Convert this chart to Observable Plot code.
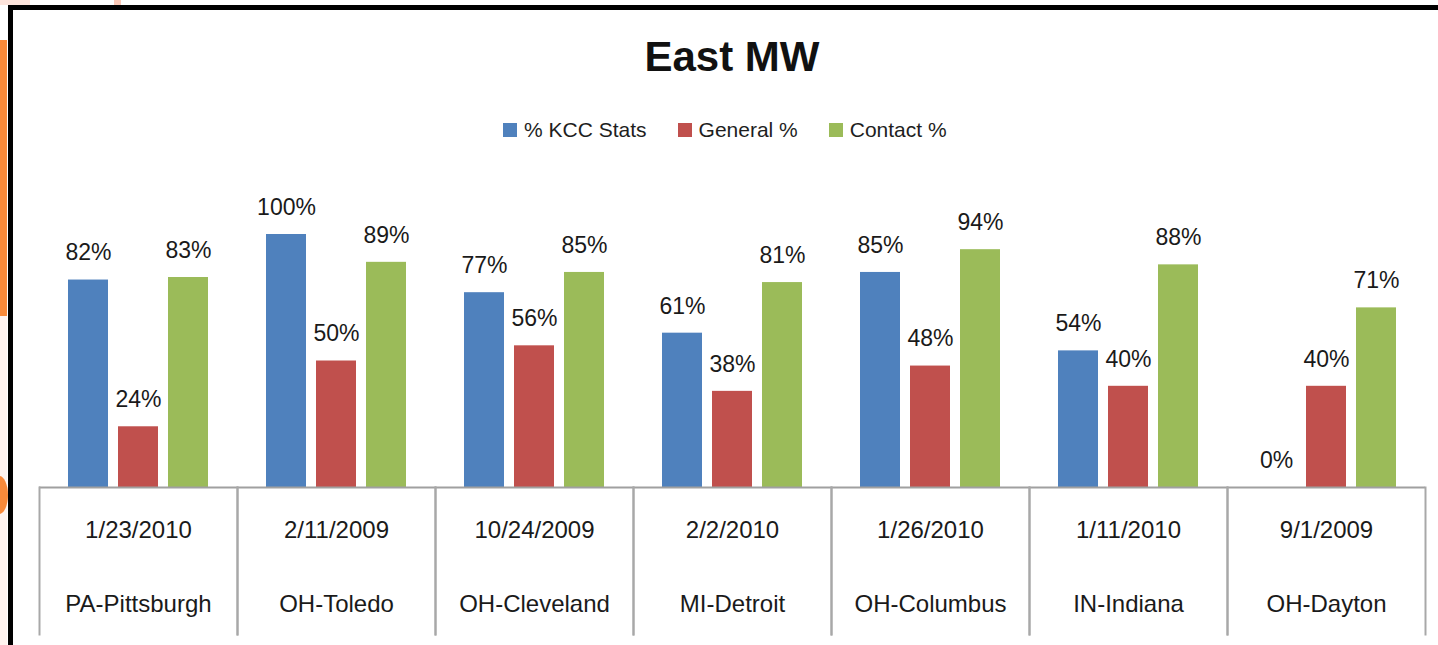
<!DOCTYPE html>
<html>
<head>
<meta charset="utf-8">
<script src="https://cdn.jsdelivr.net/npm/d3@7"></script>
<script src="https://cdn.jsdelivr.net/npm/@observablehq/plot@0.6"></script>
<style>
  html, body { margin: 0; padding: 0; background: #fff; }
  body { width: 1438px; height: 645px; overflow: hidden; font-family: "Liberation Sans", Arial, sans-serif; }
  #page { position: relative; width: 1438px; height: 645px; background: #fff; }
  .deco { position: absolute; }
  #title { position: absolute; left: 38px; width: 1388px; top: 27px; text-align: center; font-weight: bold; font-size: 42px; color: #111; line-height: 60px; }
  #legend { position: absolute; top: 118px; left: 503px; display: flex; align-items: center; font-size: 21px; color: #1e1e1e; height: 24px; }
  #legend .item { display: flex; align-items: center; margin-right: 31px; }
  #legend .sw { width: 14px; height: 14px; margin-right: 7px; }
  #chart { position: absolute; left: 0; top: 150px; }
</style>
</head>
<body>
<div id="page">
  <div class="deco" style="left:0;top:0;width:30px;height:5px;background:#fde4dc;"></div>
  <div class="deco" style="left:114px;top:0;width:7px;height:5px;background:#fbc9b8;"></div>
  <div class="deco" style="left:0;top:316px;width:7px;height:329px;background:#fff3ef;"></div>
  <div class="deco" style="left:0;top:40px;width:7px;height:276px;background:#f98a3a;"></div>
  <div class="deco" style="left:-10px;top:476px;width:18px;height:38px;border-radius:50%;background:#f98a3a;"></div>
  <div class="deco" style="left:8px;top:5px;width:1430px;height:5px;background:#000;"></div>
  <div class="deco" style="left:8px;top:5px;width:5px;height:640px;background:#000;"></div>
  <div id="title">East MW</div>
  <div id="legend"></div>
  <div id="chart"></div>
</div>
<script>
const sites = ["PA-Pittsburgh", "OH-Toledo", "OH-Cleveland", "MI-Detroit", "OH-Columbus", "IN-Indiana", "OH-Dayton"];
const dates = ["1/23/2010", "2/11/2009", "10/24/2009", "2/2/2010", "1/26/2010", "1/11/2010", "9/1/2009"];
const series = ["% KCC Stats", "General %", "Contact %"];
const kccStats = [82, 100, 77, 61, 85, 54, 0];
const generalPct = [24, 50, 56, 38, 48, 40, 40];
const contactPct = [83, 89, 85, 81, 94, 88, 71];
const colors = ["#4F81BD", "#C0504D", "#9BBB59"];

const seriesValues = [kccStats, generalPct, contactPct];
const rows = [];
sites.forEach((site, i) => {
  series.forEach((s, j) => rows.push({site, series: s, value: seriesValues[j][i]}));
});
const table = sites.map((site, i) => ({site, date: dates[i]}));

// Legend
const legend = document.getElementById("legend");
series.forEach((s, j) => {
  const item = document.createElement("div");
  item.className = "item";
  const sw = document.createElement("div");
  sw.className = "sw";
  sw.style.background = colors[j];
  const t = document.createElement("span");
  t.textContent = s;
  item.appendChild(sw);
  item.appendChild(t);
  legend.appendChild(item);
});

const font = "Liberation Sans, Arial, sans-serif";
const chart = Plot.plot({
  width: 1438,
  height: 495,
  marginLeft: 38,
  marginRight: 12,
  marginTop: 0,
  marginBottom: 11,
  style: {fontFamily: font, background: "transparent", overflow: "visible"},
  fx: {domain: sites, padding: 0, axis: null},
  x: {domain: series, paddingInner: 0.2, paddingOuter: 0.58, axis: null},
  y: {domain: [0, 100], range: [337, 84], axis: null},
  color: {domain: series, range: colors},
  marks: [
    Plot.barY(rows, {fx: "site", x: "series", y: "value", fill: "series"}),
    Plot.ruleY([0], {stroke: "#a0a0a0", strokeWidth: 2}),
    Plot.frame({anchor: "left", stroke: "#a8a8a8", strokeWidth: 2, insetTop: 337}),
    Plot.frame({anchor: "right", stroke: "#a8a8a8", strokeWidth: 2, insetTop: 337}),
    Plot.text(rows, {fx: "site", x: "series", y: "value", text: d => d.value + "%", dy: -27, fontSize: 23, fill: "#1a1a1a"}),
    Plot.text(table, {fx: "site", text: "date", frameAnchor: "bottom", dy: -97, fontSize: 24, fill: "#1a1a1a"}),
    Plot.text(table, {fx: "site", text: "site", frameAnchor: "bottom", dy: -23, fontSize: 24, fill: "#1a1a1a"})
  ]
});
document.getElementById("chart").appendChild(chart);
</script>
</body>
</html>
